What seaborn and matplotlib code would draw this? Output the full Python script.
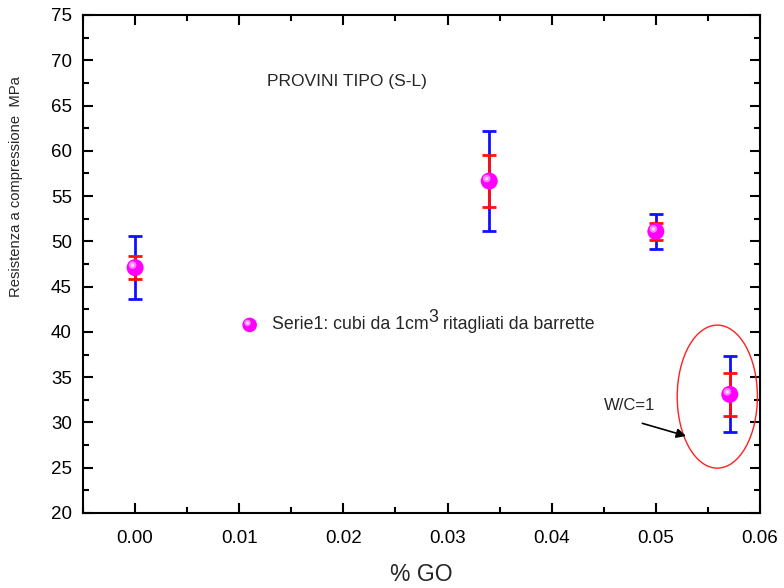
import matplotlib
matplotlib.use("Agg")
import matplotlib.pyplot as plt
import matplotlib.transforms as mtransforms
from matplotlib.patches import Ellipse
from matplotlib.ticker import MultipleLocator
import seaborn as sns
import pandas as pd

# data
go_pct = [0.0, 0.034, 0.05, 0.0571]
resistenza = [47.1, 56.66, 51.1, 33.1]
err_blue = [3.5, 5.5, 1.9, 4.2]
err_red = [1.25, 2.85, 0.95, 2.4]
x_ticks = [0.00, 0.01, 0.02, 0.03, 0.04, 0.05, 0.06]
y_ticks = [20, 25, 30, 35, 40, 45, 50, 55, 60, 65, 70, 75]

df = pd.DataFrame({"GO": go_pct, "R": resistenza})

sns.set_style("ticks")
plt.rcParams['font.family'] = ['Liberation Sans', 'DejaVu Sans']

fig = plt.figure(figsize=(7.84, 5.88), dpi=100)
ax = fig.add_axes([0.1059, 0.1276, 0.8635, 0.8469])

ax.errorbar(go_pct, resistenza, yerr=err_blue, fmt='none', ecolor='#1010ff',
            elinewidth=2.0, capsize=5, capthick=2.0, zorder=2)
ax.errorbar(go_pct, resistenza, yerr=err_red, fmt='none', ecolor='#ff1010',
            elinewidth=2.0, capsize=5, capthick=2.0, zorder=3)

sns.scatterplot(data=df, x="GO", y="R", ax=ax, s=150, color='#ff00ff',
                edgecolor='none', zorder=4, legend=False)
# subtle highlight for sphere look
hl = mtransforms.offset_copy(ax.transData, fig=fig, x=-1.8, y=1.8, units='points')
ax.scatter(go_pct, resistenza, s=30, color='#ff80ff', edgecolor='none',
           transform=hl, zorder=5)
ax.scatter(go_pct, resistenza, s=6, color='#ffd9ff', edgecolor='none',
           transform=hl, zorder=6)

# legend-like marker and text
ax.scatter([0.011], [40.77], s=110, color='#ff00ff', edgecolor='none', zorder=4)
hl2 = mtransforms.offset_copy(ax.transData, fig=fig, x=-1.5, y=1.5, units='points')
ax.scatter([0.011], [40.77], s=22, color='#ff80ff', edgecolor='none', transform=hl2, zorder=5)
ax.scatter([0.011], [40.77], s=5, color='#ffd9ff', edgecolor='none', transform=hl2, zorder=6)
t1 = ax.text(0.01314, 40.77, "Serie1: cubi da 1cm", fontsize=12.8, va='center', ha='left')
t2 = ax.annotate("3", xy=(1, 0.45), xycoords=t1, fontsize=12.8, va='bottom', ha='left')
ax.annotate(" ritagliati da barrette", xy=(1, 0), xycoords=(t2, t1),
            fontsize=12.8, va='bottom', ha='left')

ax.text(0.01266, 67.6, "PROVINI TIPO (S-L)", fontsize=12.5, va='center', ha='left')

ax.add_patch(Ellipse((0.0559, 32.85), 0.0077, 15.8, fill=False,
                     edgecolor='#ff2020', linewidth=1.0, zorder=1))
ax.annotate("", xy=(0.0529, 28.5), xytext=(0.0487, 29.9),
            arrowprops=dict(arrowstyle='-|>', color='black', lw=1.2,
                            mutation_scale=14, shrinkA=0, shrinkB=0))
ax.text(0.0450, 31.9, "W/C=1", fontsize=12, va='center', ha='left')

ax.set_xlim(-0.005, 0.06)
ax.set_ylim(20, 75)
ax.set_xticks(x_ticks)
ax.set_xticklabels([f"{v:.2f}" for v in x_ticks])
ax.set_yticks(y_ticks)
ax.xaxis.set_minor_locator(MultipleLocator(0.005))
ax.yaxis.set_minor_locator(MultipleLocator(2.5))
ax.tick_params(which='both', direction='in', top=True, right=True,
               labelsize=13.5, width=1.5, colors='black')
ax.tick_params(which='major', length=7)
ax.tick_params(axis='x', which='major', pad=12)
ax.tick_params(axis='y', which='major', pad=8)
ax.tick_params(which='minor', length=4)
for sp in ax.spines.values():
    sp.set_visible(True)
    sp.set_linewidth(1.5)
    sp.set_color('black')

ax.set_xlabel("% GO", fontsize=16.5, labelpad=12)
ax.set_ylabel("Resistenza a compressione  MPa", fontsize=10.6)
ax.yaxis.set_label_coords(-0.088, 0.655)

fig.savefig("out.png", dpi=100)
